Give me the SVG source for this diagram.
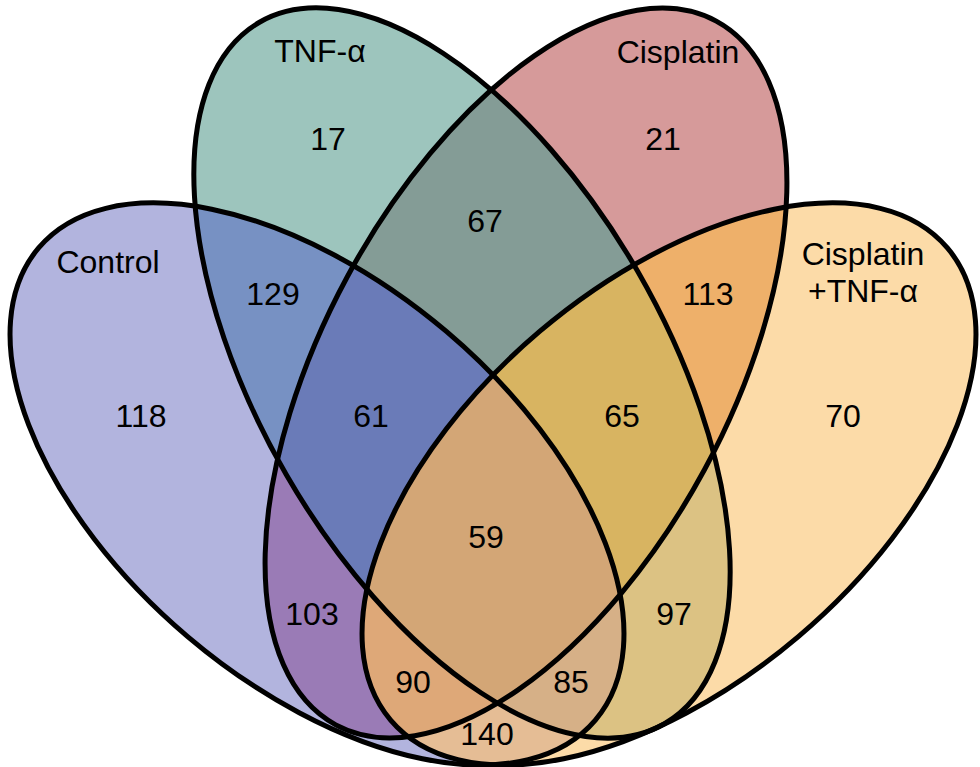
<svg xmlns="http://www.w3.org/2000/svg" xmlns:xlink="http://www.w3.org/1999/xlink" width="980" height="767" viewBox="0 0 980 767">
<style>
.outline{fill:none;stroke:#000;stroke-width:5}
text{font-family:"Liberation Sans",Arial,sans-serif;font-size:32px;fill:#000;text-anchor:middle}
</style>
<defs>
<ellipse id="eA" cx="317" cy="484" rx="365" ry="200" transform="rotate(40.3 317 484)"/>
<ellipse id="eB" cx="462" cy="373" rx="405" ry="203" transform="rotate(60 462 373)"/>
<ellipse id="eC" cx="526" cy="373" rx="400" ry="203" transform="rotate(-61.6 526 373)"/>
<ellipse id="eD" cx="669" cy="484" rx="365" ry="200" transform="rotate(-40.3 669 484)"/>
<clipPath id="cA"><ellipse cx="317" cy="484" rx="365" ry="200" transform="rotate(40.3 317 484)"/></clipPath>
<clipPath id="cB"><ellipse cx="462" cy="373" rx="405" ry="203" transform="rotate(60 462 373)"/></clipPath>
<clipPath id="cC"><ellipse cx="526" cy="373" rx="400" ry="203" transform="rotate(-61.6 526 373)"/></clipPath>
<clipPath id="cD"><ellipse cx="669" cy="484" rx="365" ry="200" transform="rotate(-40.3 669 484)"/></clipPath>
</defs>
<rect width="980" height="767" fill="#fff"/>
<g id="regions">
<use href="#eA" fill="#B2B4DE"/>
<use href="#eB" fill="#9DC5BD"/>
<use href="#eC" fill="#D69A9A"/>
<use href="#eD" fill="#FCDBA8"/>
<g clip-path="url(#cA)"><use href="#eB" fill="#7791C3"/></g>
<g clip-path="url(#cA)"><use href="#eC" fill="#9A7BB6"/></g>
<g clip-path="url(#cA)"><use href="#eD" fill="#E5BD95"/></g>
<g clip-path="url(#cB)"><use href="#eC" fill="#849C96"/></g>
<g clip-path="url(#cB)"><use href="#eD" fill="#DCC283"/></g>
<g clip-path="url(#cC)"><use href="#eD" fill="#EEB06A"/></g>
<g clip-path="url(#cA)"><g clip-path="url(#cB)"><use href="#eC" fill="#6A7BB8"/></g></g>
<g clip-path="url(#cA)"><g clip-path="url(#cB)"><use href="#eD" fill="#D6B087"/></g></g>
<g clip-path="url(#cA)"><g clip-path="url(#cC)"><use href="#eD" fill="#DEA878"/></g></g>
<g clip-path="url(#cB)"><g clip-path="url(#cC)"><use href="#eD" fill="#D8B461"/></g></g>
<g clip-path="url(#cA)"><g clip-path="url(#cB)"><g clip-path="url(#cC)"><use href="#eD" fill="#D3A676"/></g></g></g>
</g>
<g id="set-control"><use href="#eA" class="outline"/><text x="108" y="273">Control</text></g>
<g id="set-tnf"><use href="#eB" class="outline"/><text x="320" y="62">TNF-α</text></g>
<g id="set-cisplatin"><use href="#eC" class="outline"/><text x="678" y="63">Cisplatin</text></g>
<g id="set-cis-tnf"><use href="#eD" class="outline"/><text x="863" y="265">Cisplatin</text><text x="863" y="302">+TNF-α</text></g>
<g id="counts">
<text x="141" y="427">118</text>
<text x="328" y="150">17</text>
<text x="663" y="150">21</text>
<text x="843" y="427">70</text>
<text x="273" y="305">129</text>
<text x="485" y="232">67</text>
<text x="708" y="305">113</text>
<text x="371" y="427">61</text>
<text x="622" y="427">65</text>
<text x="486" y="548">59</text>
<text x="312" y="625">103</text>
<text x="674" y="625">97</text>
<text x="413" y="693">90</text>
<text x="571" y="693">85</text>
<text x="487" y="745">140</text>
</g>
</svg>
